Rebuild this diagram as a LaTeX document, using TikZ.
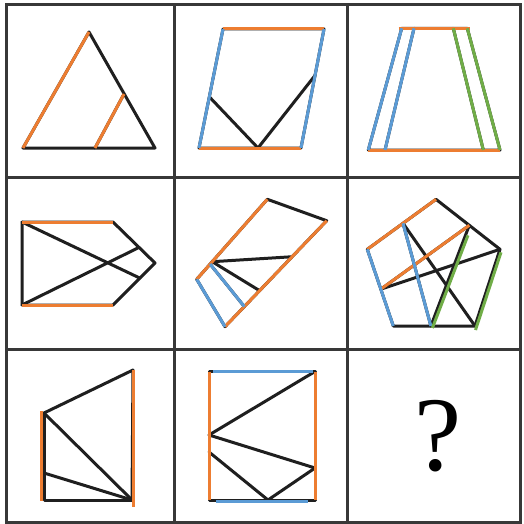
\documentclass[tikz,border=0pt]{standalone}
\usepackage{fontspec}
\newfontfamily\qfont{Liberation Serif}
\usetikzlibrary{calc}
\definecolor{cor}{RGB}{237,125,49}
\definecolor{cbl}{RGB}{91,155,213}
\definecolor{cgr}{RGB}{112,173,71}
\begin{document}
\begin{tikzpicture}[x=1pt,y=-1pt,
  edge/.style={line width=3pt, black!88, line join=round, line cap=round},
  col/.style={line width=3pt},
  gridline/.style={line width=3pt, black!78}]
\useasboundingbox (0,0) rectangle (523,524);
\fill[white] (0,0) rectangle (523,524);
% grid
\draw[gridline] (6,5) rectangle (520,522);
\draw[gridline] (174,5) -- (174,522);
\draw[gridline] (347,5) -- (347,522);
\draw[gridline] (6,177) -- (520,177);
\draw[gridline] (6,349) -- (520,349);

% cell 1: triangle
\coordinate (a1) at (89,32);
\coordinate (a2) at (23,148);
\coordinate (a3) at (155,148);
\coordinate (a4) at (95,148);
\coordinate (a5) at (124,94);
\draw[edge] (a1) -- (a2) -- (a3) -- cycle;
\draw[edge] (a4) -- (a5);
\draw[col,cor,xshift=-1pt] (a1) -- (a2);
\draw[col,cor,xshift=-1pt] (a4) -- (a5);

% cell 2: parallelogram
\coordinate (b1) at (223,29);
\coordinate (b2) at (324,29);
\coordinate (b3) at (301,148);
\coordinate (b4) at (199,148);
\coordinate (b5) at ($(b1)!0.57!(b4)$);
\coordinate (b6) at (258,148);
\coordinate (b7) at ($(b2)!0.39!(b3)$);
\draw[edge] (b1) -- (b2) -- (b3) -- (b4) -- cycle;
\draw[edge] (b5) -- (b6) -- (b7);
\draw[col,cor,yshift=1pt] (b1) -- (b2);
\draw[col,cor,yshift=-1pt] (b4) -- (b3);
\draw[col,cbl,xshift=-1pt] (b1) -- (b4);
\draw[col,cbl,xshift=1pt] (b2) -- (b3);

% cell 3: trapezoid
\coordinate (c1) at (401.7,28.3);
\coordinate (c2) at (467.3,28.3);
\coordinate (c3) at (500,150);
\coordinate (c4) at (368.3,150);
\coordinate (c5) at (414,28.3);
\coordinate (c6) at (385,150);
\coordinate (c7) at (453.3,28.3);
\coordinate (c8) at (483.3,150);
\draw[edge] (c1) -- (c2) -- (c3) -- (c4) -- cycle;
\draw[edge] (c5) -- (c6);
\draw[edge] (c7) -- (c8);
\draw[col,cor,yshift=1pt] ($(c1)+(-3,0)$) -- ($(c2)+(3,0)$);
\draw[col,cor,yshift=-1pt] (c4) -- (c3);
\draw[col,cbl,xshift=-1.2pt] (c1) -- (c4);
\draw[col,cbl,xshift=-1.2pt] (c5) -- (c6);
\draw[col,cgr,xshift=-1.2pt] (c7) -- (c8);
\draw[col,cgr,xshift=1.2pt] (c2) -- (c3);

% cell 4: pentagon arrow
\coordinate (d1) at (22,222);
\coordinate (d2) at (113,222);
\coordinate (d3) at (155,263);
\coordinate (d4) at (113,305);
\coordinate (d5) at (22,305);
\coordinate (d6) at ($(d3)!0.36!(d4)$);
\coordinate (d7) at ($(d2)!0.62!(d3)$);
\draw[edge] (d1) -- (d2) -- (d3) -- (d4) -- (d5) -- cycle;
\draw[edge] (d1) -- (d6);
\draw[edge] (d5) -- (d7);
\draw[col,cor,yshift=1pt] (d1) -- (d2);
\draw[col,cor,yshift=-1pt] (d5) -- (d4);

% cell 5: tilted quadrilateral
\coordinate (e1) at (267.3,199.3);
\coordinate (e2) at (326.7,220.7);
\coordinate (e3) at (225,326.7);
\coordinate (e4) at (196.7,279.3);
\coordinate (e5) at ($(e1)!0.78!(e4)$);
\coordinate (e6) at ($(e1)!0.81!(e4)$);
\coordinate (f1) at ($(e2)!0.34!(e3)$);
\coordinate (f2) at ($(e2)!0.66!(e3)$);
\coordinate (f3) at ($(e2)!0.81!(e3)$);
\draw[edge] (e1) -- (e2) -- (e3) -- (e4) -- cycle;
\draw[edge] (e5) -- (f1);
\draw[edge] (e5) -- (f2);
\draw[edge] (e6) -- (f3);
\draw[col,cor,xshift=-1pt] (e1) -- (e4);
\draw[col,cor,xshift=1pt] (e2) -- (e3);
\draw[col,cbl,xshift=-1pt] (e4) -- (e3);
\draw[col,cbl,xshift=-1pt] (e6) -- (f3);

% cell 6: pentagon
\coordinate (T) at (436,199.3);
\coordinate (R) at (500,249.3);
\coordinate (BR) at (475,326);
\coordinate (BL) at (393.3,326);
\coordinate (L) at (367.3,249.3);
\coordinate (P3) at ($(L)!0.52!(T)$);
\coordinate (P2) at ($(T)!0.52!(R)$);
\coordinate (P1) at ($(L)!0.52!(BL)$);
\coordinate (P4) at ($(BL)!0.46!(BR)$);
\draw[edge] (T) -- (R) -- (BR) -- (BL) -- (L) -- cycle;
\draw[edge] (P3) -- (P4);
\draw[edge] (P3) -- (BR);
\draw[edge] (P2) -- (P4);
\draw[edge] (P1) -- (P2);
\draw[edge] (P1) -- (R);
\draw[col,cor,yshift=1pt] (L) -- (T);
\draw[col,cor] (P1) -- (P2);
\draw[col,cbl,xshift=-1pt] (L) -- (BL);
\draw[col,cbl] (P3) -- (P4);
\draw[col,cgr] ($(P2)!0.1!(P4)+(2.5,0)$) -- ($(P4)+(1.5,2)$);
\draw[col,cgr] ($(R)+(1,3)$) -- ($(BR)+(0.5,4)$);

% cell 7
\coordinate (g1) at (133,370);
\coordinate (g2) at (132,500);
\coordinate (g3) at (44,500);
\coordinate (g4) at (44,413);
\coordinate (g5) at (44,473);
\draw[edge] (g4) -- (g1);
\draw[edge] (g1) -- (g2);
\draw[edge] (g4) -- (g3) -- (g2);
\draw[edge] (g4) -- (g2);
\draw[edge] (g5) -- (g2);
\draw[col,cor] (41.5,411) -- (41.5,501);
\draw[col,cor] (g1) -- (133,507);

% cell 8: rectangle
\coordinate (h1) at (209,371.5);
\coordinate (h2) at (315,371.5);
\coordinate (h3) at (315,500);
\coordinate (h4) at (209,500);
\coordinate (h5) at (209,435);
\coordinate (h6) at (209,452);
\coordinate (h7) at (315,468);
\coordinate (h8) at (268,500);
\draw[edge] (h1) -- (h2) -- (h3) -- (h4) -- cycle;
\draw[edge] (h5) -- (h2);
\draw[edge] (h5) -- (h7);
\draw[edge] (h6) -- (h8) -- (h7);
\draw[col,cor,xshift=-1pt] (h1) -- (h4);
\draw[col,cor,xshift=1pt] (h2) -- (h3);
\draw[col,cbl,yshift=0.5pt] (213,371.5) -- (313,371.5);
\draw[col,cbl,yshift=-1pt] (216,500) -- (308,500);

% cell 9
\node[inner sep=0pt] (q) at (438,436) {\qfont\fontsize{106}{106}\selectfont ?};
\end{tikzpicture}
\end{document}
